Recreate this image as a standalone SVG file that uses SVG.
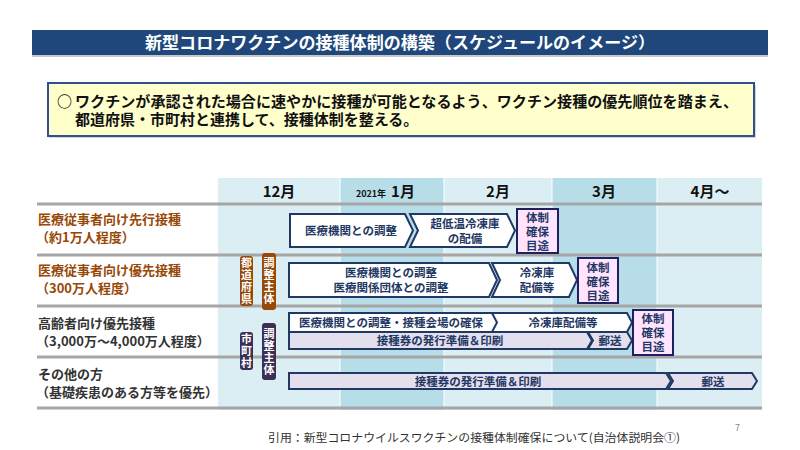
<svg xmlns="http://www.w3.org/2000/svg" width="800" height="450" viewBox="0 0 800 450">
<style>
text{font-family:"Noto Sans CJK JP","Noto Sans",sans-serif;}
.b{font-weight:700;}
.lab{font-size:13px;font-weight:700;fill:#984807;}
.lab2{font-size:13px;font-weight:700;fill:#333333;}
.hd{font-size:15px;font-weight:700;fill:#111111;text-anchor:middle;}
.ar{stroke:#1F3864;stroke-width:2;stroke-linejoin:miter;}
.w{fill:#FFFFFF;}
.lv{fill:#E4DFEC;}
.at{font-size:11.5px;font-weight:700;fill:#1F3864;text-anchor:middle;}
.pk{fill:#FFE3FF;stroke:#1F2060;stroke-width:2;}
.pt{font-size:11.5px;font-weight:700;fill:#1F3864;text-anchor:middle;}
.vt{font-size:11px;font-weight:700;fill:#FFFFFF;writing-mode:vertical-rl;text-anchor:start;letter-spacing:1px;}
.gl{stroke:#A6A6A6;stroke-width:3;}
</style>
<rect width="800" height="450" fill="#FFFFFF"/>
<g id="title">
<rect x="32" y="55" width="736" height="2" fill="#C8C8C8"/>
<rect x="32" y="30" width="736" height="25" fill="#1F477B"/>
<text x="400" y="48.5" class="b" font-size="16.5" fill="#FFFFFF" text-anchor="middle" textLength="510" lengthAdjust="spacingAndGlyphs">新型コロナワクチンの接種体制の構築（スケジュールのイメージ）</text>
</g>
<g id="summary">
<rect x="49" y="85" width="707" height="53" fill="#B0B0B0" opacity="0.5"/>
<rect x="48" y="83" width="706" height="53" fill="#FFFFCC" stroke="#2F4F8F" stroke-width="2"/>
<text x="57" y="107" class="b" font-size="15" fill="#111111">○</text>
<text x="75" y="107" class="b" font-size="15" fill="#111111" textLength="663" lengthAdjust="spacingAndGlyphs">ワクチンが承認された場合に速やかに接種が可能となるよう、ワクチン接種の優先順位を踏まえ、</text>
<text x="75" y="125" class="b" font-size="15" fill="#111111">都道府県・市町村と連携して、接種体制を整える。</text>
</g>
<g id="timeline-grid">
<rect x="218" y="178" width="122" height="232" fill="#DBEEF4"/>
<rect x="340" y="178" width="104" height="232" fill="#B7DDE8"/>
<rect x="444" y="178" width="108" height="232" fill="#DBEEF4"/>
<rect x="552" y="178" width="105" height="232" fill="#B7DDE8"/>
<rect x="657" y="178" width="105" height="232" fill="#DBEEF4"/>
<g stroke="#FFFFFF" stroke-width="1">
<line x1="340" y1="178" x2="340" y2="410"/>
<line x1="444" y1="178" x2="444" y2="410"/>
<line x1="552" y1="178" x2="552" y2="410"/>
<line x1="657" y1="178" x2="657" y2="410"/>
</g>
<line class="gl" x1="37" y1="204" x2="762" y2="204"/>
<line class="gl" x1="37" y1="255" x2="762" y2="255"/>
<line class="gl" x1="37" y1="306" x2="762" y2="306"/>
<line class="gl" x1="37" y1="357" x2="762" y2="357"/>
<line class="gl" x1="37" y1="408" x2="762" y2="408"/>
<text x="279" y="197" class="hd">12月</text>
<text x="371" y="197" font-size="9" font-weight="700" fill="#111111" text-anchor="middle">2021年</text>
<text x="403" y="197" class="hd">1月</text>
<text x="498" y="197" class="hd">2月</text>
<text x="604" y="197" class="hd">3月</text>
<text x="710" y="197" class="hd">4月～</text>
</g>
<g id="row-labels">
<text x="38" y="224" class="lab">医療従事者向け先行接種</text>
<text x="36" y="242" class="lab">（約1万人程度）</text>
<text x="38" y="275" class="lab">医療従事者向け優先接種</text>
<text x="36" y="293" class="lab">（300万人程度）</text>
<text x="38" y="328" class="lab2">高齢者向け優先接種</text>
<text x="36" y="346" class="lab2">（3,000万～4,000万人程度）</text>
<text x="38" y="379" class="lab2">その他の方</text>
<text x="36" y="397" class="lab2">（基礎疾患のある方等を優先）</text>
</g>
<g id="coordinators">
<rect x="240" y="256" width="13" height="50" rx="3" fill="#984807"/>
<text class="vt" x="246.5" y="257">都道府県</text>
<rect x="262" y="253" width="14" height="57" rx="3" fill="#984807"/>
<text class="vt" x="269" y="257">調整主体</text>
<rect x="240" y="332" width="13" height="38" rx="3" fill="#3B2F55"/>
<text class="vt" x="246.5" y="333">市町村</text>
<rect x="262" y="323" width="14" height="57" rx="3" fill="#3B2F55"/>
<text class="vt" x="269" y="328">調整主体</text>
</g>
<g id="connectors">
<polygon class="ar w" points="290,214 405,214 413,230.5 405,247 290,247"/>
<polygon class="ar w" points="410,214 507,214 515,230.5 507,247 410,247 418,230.5"/>
<polygon class="ar w" points="289,263 489,263 497,280 489,297 289,297"/>
<polygon class="ar w" points="492,263 569,263 577,280 569,297 492,297 500,280"/>
<polygon class="ar w" points="289,313 493,313 498,322.5 493,332 289,332"/>
<polygon class="ar w" points="492,313 627,313 632,322.5 627,332 492,332 497,322.5"/>
<polygon class="ar lv" points="289,332 587,332 592,340.5 587,349 289,349"/>
<polygon class="ar lv" points="588,332 627,332 632,340.5 627,349 588,349 593,340.5"/>
<polygon class="ar lv" points="289,373 666,373 671,381 666,389 289,389"/>
<polygon class="ar lv" points="668,373 752,373 757,381 752,389 668,389 673,381"/>
</g>
<g id="tasks">
<text x="351" y="235" class="at">医療機関との調整</text>
<text x="465" y="228" class="at">超低温冷凍庫</text>
<text x="465" y="243" class="at">の配備</text>
<text x="391" y="277" class="at">医療機関との調整</text>
<text x="391" y="292" class="at">医療関係団体との調整</text>
<text x="537" y="277" class="at">冷凍庫</text>
<text x="537" y="292" class="at">配備等</text>
<text x="391" y="327" class="at">医療機関との調整・接種会場の確保</text>
<text x="563" y="327" class="at">冷凍庫配備等</text>
<text x="440" y="345" class="at">接種券の発行準備＆印刷</text>
<text x="610" y="345" class="at">郵送</text>
<text x="478" y="385.5" class="at">接種券の発行準備＆印刷</text>
<text x="713" y="385.5" class="at">郵送</text>
</g>
<g id="milestone-1">
<rect class="pk" x="517" y="209" width="41" height="44"/>
<text class="pt"><tspan x="537.5" y="222">体制</tspan><tspan x="537.5" y="236">確保</tspan><tspan x="537.5" y="250">目途</tspan></text>
</g>
<g id="milestone-2">
<rect class="pk" x="578" y="258" width="40" height="45"/>
<text class="pt"><tspan x="598" y="272">体制</tspan><tspan x="598" y="286">確保</tspan><tspan x="598" y="300">目途</tspan></text>
</g>
<g id="milestone-3">
<rect class="pk" x="633" y="310" width="40" height="45"/>
<text class="pt"><tspan x="653" y="323">体制</tspan><tspan x="653" y="337">確保</tspan><tspan x="653" y="351">目途</tspan></text>
</g>
<g id="footer">
<text x="735" y="431" font-size="9" fill="#888888">7</text>
<text x="268" y="442" font-size="11.5" fill="#333333" textLength="412" lengthAdjust="spacingAndGlyphs">引用：新型コロナウイルスワクチンの接種体制確保について(自治体説明会①)</text>
</g>
</svg>
